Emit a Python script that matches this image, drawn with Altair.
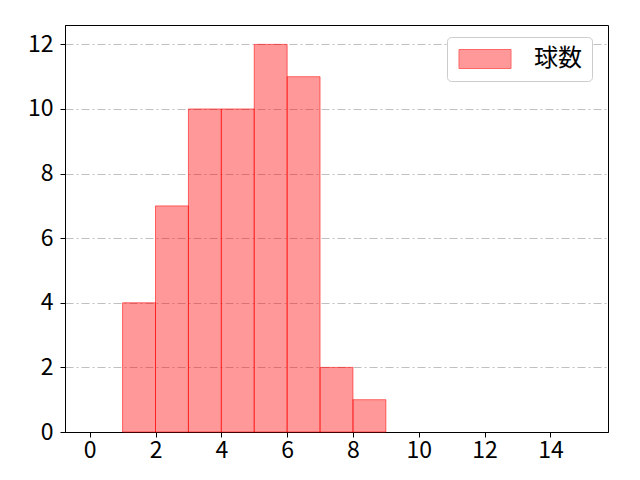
import altair as alt
import pandas as pd

bin_start = [1, 2, 3, 4, 5, 6, 7, 8]
bin_end = [2, 3, 4, 5, 6, 7, 8, 9]
counts = [4, 7, 10, 10, 12, 11, 2, 1]
series = ["球数"] * len(counts)
x_ticks = [0, 2, 4, 6, 8, 10, 12, 14]
y_ticks = [0, 2, 4, 6, 8, 10, 12]

df = pd.DataFrame({"start": bin_start, "end": bin_end, "count": counts, "series": series})

FONT = "Noto Sans CJK JP"

bars = alt.Chart(df).mark_rect(
    fill="#ff0000", fillOpacity=0.4, stroke="#ff0000", strokeOpacity=0.55, strokeWidth=1
).encode(
    x=alt.X("start:Q", scale=alt.Scale(domain=[-0.75, 15.75], nice=False, zero=False),
            axis=alt.Axis(values=x_ticks, title=None, grid=False)),
    x2="end:Q",
    y=alt.Y("count:Q", scale=alt.Scale(domain=[0, 12.6], nice=False),
            axis=alt.Axis(values=y_ticks, title=None, grid=True,
                          gridColor="#b0b0b0", gridDash=[8, 3, 2, 3], gridWidth=0.8)),
    y2=alt.datum(0),
    color=alt.Color("series:N", scale=alt.Scale(range=["#ff9999"]),
                    legend=alt.Legend(title=None, orient="none", legendX=382, legendY=12,
                                      symbolType="M-1,-0.95H4.2V0.95H-1Z", symbolSize=400,
                                      symbolStrokeColor="#ff6666", symbolStrokeWidth=1,
                                      symbolFillColor="#ff9999", symbolOpacity=1,
                                      labelFontSize=24, labelFont=FONT, labelOffset=53,
                                      labelColor="#000000",
                                      padding=10, strokeColor="#cccccc", fillColor="#ffffff",
                                      cornerRadius=4)),
)

chart = bars.properties(
    width=543, height=407, autosize="none", background="white",
    padding={"left": 57, "top": 17, "right": 24, "bottom": 40},
).configure_view(
    stroke="#000000", strokeWidth=1
).configure_axis(
    labelFont=FONT, labelFontSize=23, labelColor="#000000",
    domainColor="#000000", tickColor="#000000", tickSize=5,
    domain=True
).configure_axisX(
    labelPadding=2
).configure_axisY(
    labelPadding=7
)

chart.save("out.html", embed_options={"renderer": "svg", "actions": False})
